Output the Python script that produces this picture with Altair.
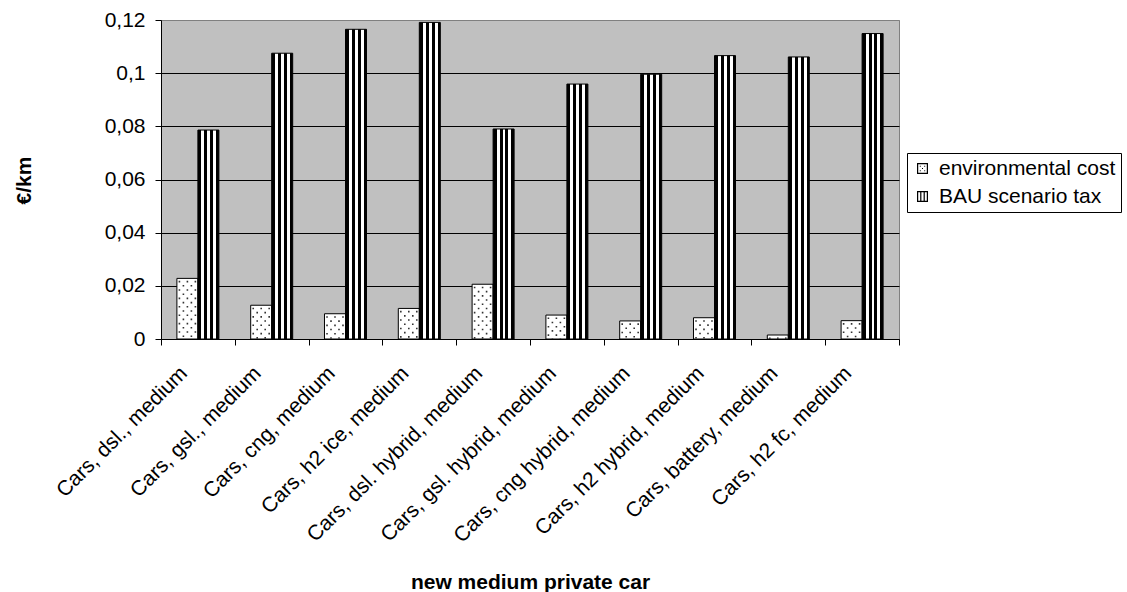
import altair as alt
import pandas as pd

# Per-km cost of a new medium private car, by drive train
categories = [
    "Cars, dsl., medium",
    "Cars, gsl., medium",
    "Cars, cng, medium",
    "Cars, h2 ice, medium",
    "Cars, dsl. hybrid, medium",
    "Cars, gsl. hybrid, medium",
    "Cars, cng hybrid, medium",
    "Cars, h2 hybrid, medium",
    "Cars, battery, medium",
    "Cars, h2 fc, medium",
]
environmental_cost = [0.0228, 0.0127, 0.0095, 0.0115, 0.0206, 0.0090, 0.0068, 0.0080, 0.0015, 0.0069]
bau_scenario_tax = [0.0786, 0.1075, 0.1165, 0.1191, 0.0790, 0.0959, 0.0996, 0.1066, 0.1061, 0.1149]
series_names = ["environmental cost", "BAU scenario tax"]
y_ticks = [0, 0.02, 0.04, 0.06, 0.08, 0.1, 0.12]

rows = []
for i, (cat, env, bau) in enumerate(zip(categories, environmental_cost, bau_scenario_tax)):
    rows.append({"category": cat, "idx": i, "series": series_names[0], "value": env})
    rows.append({"category": cat, "idx": i, "series": series_names[1], "value": bau})
df = pd.DataFrame(rows)

FONT = "Liberation Sans"

# the pair of bars fills the middle of each category slot
OUTER = 0.757  # outer padding of the series offset, in sub-band steps
env_start = OUTER / (2 + 2 * OUTER)  # left edge of the first bar, as a fraction of a slot
env_width = 1 / (2 + 2 * OUTER)

# vertical black/white stripes for the tax bars
stripe_edges = [0.0, 0.17, 0.31, 0.45, 0.59, 0.73, 0.87, 1.0]
stops = []
for i in range(len(stripe_edges) - 1):
    col = "black" if i % 2 == 0 else "white"
    stops.append(alt.GradientStop(color=col, offset=stripe_edges[i]))
    stops.append(alt.GradientStop(color=col, offset=stripe_edges[i + 1]))
stripes = alt.LinearGradient(gradient="linear", stops=stops, x1=0, x2=1, y1=0, y2=0)

x_axis = alt.Axis(
    title="new medium private car",
    titleFontSize=21,
    titleFontWeight="bold",
    titleColor="black",
    titleX=369,
    titleY=249,
    titleBaseline="alphabetic",
    labelAngle=-45,
    labelAlign="right",
    labelBaseline="top",
    labelOffset=-22,
    labelPadding=17,
    labelFontSize=21,
    labelColor="black",
    labelLimit=400,
    tickBand="extent",
    tickSize=6,
    tickColor="black",
    domainColor="black",
    grid=False,
)
x_scale = alt.Scale(paddingInner=0, paddingOuter=0)
x_enc = alt.X("category:N", sort=categories, scale=x_scale, axis=x_axis)

offset_scale = alt.Scale(domain=series_names, paddingInner=0, paddingOuter=OUTER)
xoff_enc = alt.XOffset("series:N", sort=series_names, scale=offset_scale)
y_enc = alt.Y(
    "value:Q",
    scale=alt.Scale(domain=[0, 0.12], nice=False),
    axis=alt.Axis(
        values=y_ticks,
        labelExpr="replace(format(datum.value, '~g'), '.', ',')",
        labelFontSize=21,
        labelColor="black",
        labelPadding=10,
        tickSize=6,
        tickColor="black",
        domainColor="black",
        grid=True,
        gridColor=alt.condition("datum.value >= 0.12", alt.value("#808080"), alt.value("#000000")),
        gridWidth=1,
        title="€/km",
        titleFontSize=21,
        titleFontWeight="bold",
        titleColor="black",
        titleAngle=270,
        titleAlign="center",
        titleBaseline="middle",
        titleX=-137,
        titleY=160,
    ),
)

base = alt.Chart(df)
env_data = base.transform_filter(alt.datum.series == series_names[0])
bau_data = base.transform_filter(alt.datum.series == series_names[1])

env_bars = env_data.mark_bar(fill="white", stroke="black", strokeWidth=1).encode(
    x=x_enc, xOffset=xoff_enc, y=y_enc
)
bau_bars = bau_data.mark_bar(fill=stripes, stroke="black", strokeWidth=1).encode(
    x=x_enc, xOffset=xoff_enc, y=y_enc
)

# legend symbols: framed square with dots / with stripes
frame = "M-1,-1H1V1H-1Z M-0.78,-0.78V0.78H0.78V-0.78Z"
dots = " ".join(
    f"M{x - 0.09:.2f},{y - 0.09:.2f}h0.18v0.18h-0.18Z"
    for x, y in [(-0.4, -0.4), (0.4, -0.4), (0, 0), (-0.4, 0.4), (0.4, 0.4)]
)
bars = "M-0.42,-0.78H-0.2V0.78H-0.42Z M0.2,-0.78H0.42V0.78H0.2Z"
legend_shapes = [frame + " " + dots, frame + " " + bars]

legend_points = base.mark_point(filled=True, opacity=0).encode(
    x=x_enc,
    xOffset=xoff_enc,
    y=y_enc,
    color=alt.Color(
        "series:N",
        sort=series_names,
        scale=alt.Scale(domain=series_names, range=["#000000", "#000000"]),
        legend=alt.Legend(title=None),
    ),
    shape=alt.Shape(
        "series:N",
        sort=series_names,
        scale=alt.Scale(domain=series_names, range=legend_shapes),
        legend=alt.Legend(title=None),
    ),
)

# dotted texture inside the environmental-cost bars: staggered dashed columns
slot_x = alt.Scale(domain=[0, len(categories)], nice=False, zero=False)
dot_layers = []
for k, frac in enumerate([0.12, 0.31, 0.5, 0.69, 0.88]):
    dot_layers.append(
        env_data.transform_calculate(
            xpos=f"datum.idx + {env_start + frac * env_width:.4f}"
        )
        .mark_rule(
            color="#333333",
            strokeWidth=1.6,
            strokeDash=[1.6, 6.8],
            strokeDashOffset=6.0 if k % 2 == 0 else 1.8,
        )
        .encode(
            x=alt.X("xpos:Q", scale=slot_x, axis=None),
            y=alt.Y("value:Q"),
            y2=alt.datum(0),
        )
    )

bar_group = alt.layer(env_bars, bau_bars, legend_points)
dot_group = alt.layer(*dot_layers)

chart = (
    alt.layer(bar_group, dot_group)
    .resolve_scale(x="independent")
    .properties(
        width=738,
        height=319,
        autosize=alt.AutoSizeParams(type="none"),
        padding={"left": 161, "top": 20, "right": 228, "bottom": 253},
        background="white",
    )
    .configure(font=FONT)
    .configure_view(fill="#C0C0C0", stroke="#808080", strokeWidth=1)
    .configure_legend(
        orient="none",
        legendX=746,
        legendY=133,
        fillColor="white",
        strokeColor="black",
        padding=5,
        rowPadding=6,
        labelFontSize=21,
        labelColor="black",
        labelOffset=6,
        labelLimit=300,
        symbolSize=121,
        symbolStrokeWidth=0,
        symbolOpacity=1,
        cornerRadius=0,
    )
)

chart.save("out.html", embed_options={"renderer": "svg", "actions": False})
